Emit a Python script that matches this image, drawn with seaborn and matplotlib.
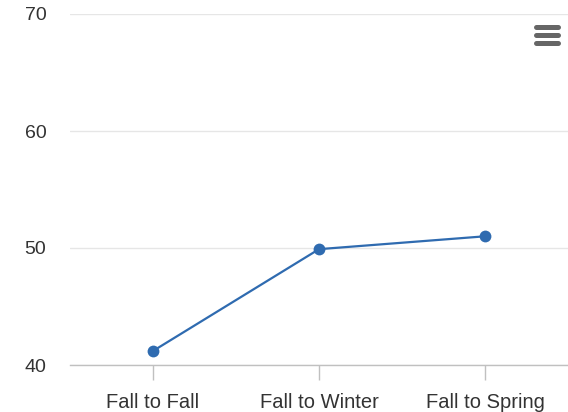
import pandas as pd
import seaborn as sns
import matplotlib.pyplot as plt
from matplotlib.lines import Line2D

# values
periods = ["Fall to Fall", "Fall to Winter", "Fall to Spring"]
rates = [41.2, 49.9, 51.0]
y_ticks = [40, 50, 60, 70]

df = pd.DataFrame({"period": periods, "rate": rates})

sns.set_style("white")
plt.rcParams["font.family"] = ["Liberation Sans", "DejaVu Sans"]

fig = plt.figure(figsize=(5.68, 4.12), dpi=100)
ax = fig.add_axes([70 / 568, 47 / 412, 498 / 568, 351 / 412])

sns.lineplot(data=df, x="period", y="rate", ax=ax, color="#2f6bb0",
             linewidth=1.6, marker="o", markersize=8.5,
             markeredgewidth=0, sort=False)

ax.set_xlim(-0.5, len(periods) - 0.5)
ax.set_ylim(y_ticks[0], y_ticks[-1])
ax.set_yticks(y_ticks)
ax.grid(axis="y", color="#e6e6e6", linewidth=1)
ax.set_axisbelow(True)
ax.set_xlabel("")
ax.set_ylabel("")

for side in ["top", "right", "left"]:
    ax.spines[side].set_visible(False)
ax.spines["bottom"].set_color("#c0c0c0")
ax.spines["bottom"].set_linewidth(1)

ax.tick_params(axis="x", bottom=True, direction="out", length=11, width=1,
               color="#c0c0c0", labelsize=14.5, labelcolor="#333333", pad=9)
ax.tick_params(axis="y", left=False, length=0, labelsize=14,
               labelcolor="#333333", pad=17)

# export menu icon (top right)
for yy in [27, 35, 43]:
    fig.add_artist(Line2D([536 / 568, 558 / 568], [1 - yy / 412, 1 - yy / 412],
                          color="#666666", linewidth=3.6,
                          solid_capstyle="round", transform=fig.transFigure))

fig.savefig("out.png", dpi=100)
